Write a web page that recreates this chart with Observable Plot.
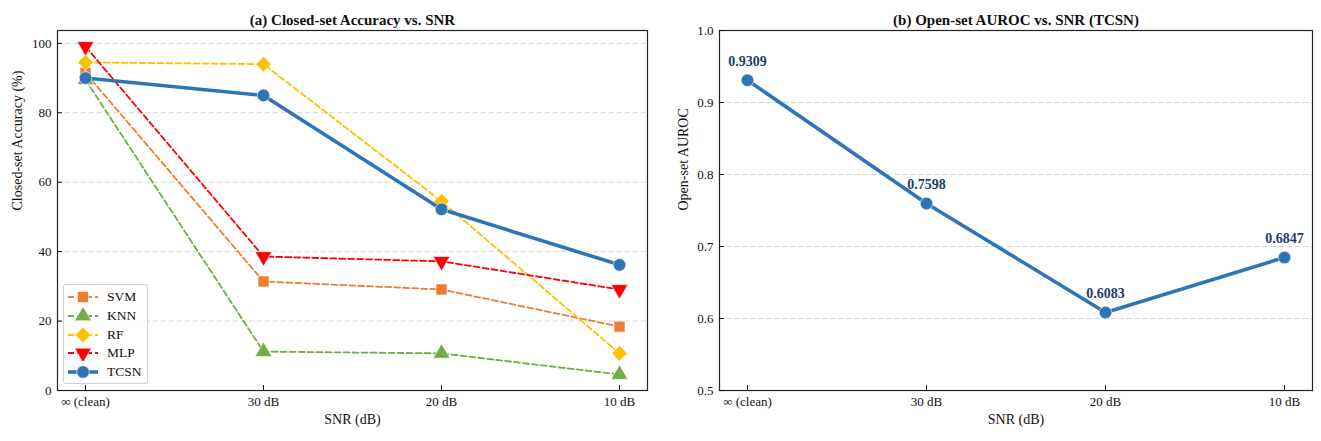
<!DOCTYPE html>
<html>
<head>
<meta charset="utf-8">
<script src="https://cdn.jsdelivr.net/npm/d3@7"></script>
<script src="https://cdn.jsdelivr.net/npm/@observablehq/plot@0.6"></script>
<style>
  html, body { margin: 0; padding: 0; background: #fff; }
  #wrap { position: relative; width: 1321px; height: 441px; display: flex; font-family: "Liberation Serif", "DejaVu Serif", serif; }
  #legend { position: absolute; left: 63px; top: 284px; width: 85px; height: 100px; box-sizing: border-box;
            border: 1px solid #d0d0d0; border-radius: 3px; background: rgba(255,255,255,0.85); padding-top: 3px; }
  .row { display: flex; align-items: center; height: 18.7px; font-size: 13.5px; color: #111; }
  .row svg { margin-left: 3px; margin-right: 8px; }
</style>
</head>
<body>
<div id="wrap">
  <div id="left"></div>
  <div id="right"></div>
  <div id="legend"></div>
</div>
<script>
// ---- data ----
const snr = ["∞ (clean)", "30 dB", "20 dB", "10 dB"];
const svm  = [91.5, 31.4, 29.1, 18.4];
const knn  = [89.5, 11.2, 10.7, 4.6];
const rf   = [94.5, 94.0, 54.5, 10.7];
const mlp  = [99.1, 38.6, 37.2, 29.1];
const tcsn = [90.0, 85.0, 52.2, 36.2];
const auroc = [0.9309, 0.7598, 0.6083, 0.6847];
const accTicks = [0, 20, 40, 60, 80, 100];
const aurocTicks = [0.5, 0.6, 0.7, 0.8, 0.9, 1.0];

// inverted triangle symbol
const triangleDown = {
  draw(ctx, size) {
    const s = Math.sqrt(4 * size / Math.sqrt(3));
    const h = s * Math.sqrt(3) / 2;
    ctx.moveTo(0, 2 * h / 3);
    ctx.lineTo(-s / 2, -h / 3);
    ctx.lineTo(s / 2, -h / 3);
    ctx.closePath();
  }
};

const series = [
  {name: "SVM",  values: svm,  color: "#ED7D31", symbol: "square",   r: 6.2, dash: "6,3", width: 1.8},
  {name: "KNN",  values: knn,  color: "#70AD47", symbol: "triangle", r: 6.2, dash: "6,3", width: 1.8},
  {name: "RF",   values: rf,   color: "#FFC000", symbol: "diamond2", r: 7.0, dash: "6,3", width: 1.8},
  {name: "MLP",  values: mlp,  color: "#FF0000", symbol: triangleDown, r: 6.2, dash: "6,3", width: 1.8},
  {name: "TCSN", values: tcsn, color: "#2E75B6", symbol: "circle",   r: 6.3, dash: null,  width: 3.6}
];

const font = {fontFamily: "Liberation Serif, DejaVu Serif, serif", fontSize: "13px", color: "#111", background: "transparent"};

// ---- left chart ----
const leftMarks = [
  Plot.gridY(accTicks.slice(1), {stroke: "#d4d4d4", strokeOpacity: 1, strokeDasharray: "5,3", strokeWidth: 1}),
];
for (const s of series) {
  const rows = snr.map((k, i) => ({snr: k, v: s.values[i]}));
  leftMarks.push(Plot.line(rows, {x: "snr", y: "v", stroke: s.color, strokeWidth: s.width,
    strokeDasharray: s.dash || undefined, strokeLinejoin: "round"}));
  leftMarks.push(Plot.dot(rows, {x: "snr", y: "v", fill: s.color, symbol: () => s.symbol, r: s.r,
    stroke: "white", strokeWidth: 0.6}));
}
leftMarks.push(
  Plot.frame({stroke: "#222", strokeWidth: 1.2}),
  Plot.axisY(accTicks, {tickSize: -5, tickPadding: 11, fontSize: 13, label: null}),
  Plot.axisX(snr, {tickSize: -5, tickPadding: 11, fontSize: 13, label: null}),
  Plot.text(["Closed-set Accuracy (%)"], {frameAnchor: "left", dx: -40, rotate: -90, fontSize: 14, text: d => d}),
  Plot.text(["SNR (dB)"], {frameAnchor: "bottom", dy: 33, fontSize: 14, text: d => d}),
  Plot.text(["(a) Closed-set Accuracy vs. SNR"], {frameAnchor: "top", dy: -16, fontSize: 15, fontWeight: "bold", text: d => d})
);

const left = Plot.plot({
  width: 660, height: 441,
  marginLeft: 57, marginRight: 13, marginTop: 30, marginBottom: 51,
  style: font,
  x: {type: "point", domain: snr, padding: 0.15, axis: null},
  y: {domain: [0, 103.7], axis: null},
  marks: leftMarks
});
document.getElementById("left").append(left);

// ---- right chart ----
const rrows = snr.map((k, i) => ({snr: k, v: auroc[i]}));
const right = Plot.plot({
  width: 661, height: 441,
  marginLeft: 59, marginRight: 9, marginTop: 30, marginBottom: 51,
  style: font,
  x: {type: "point", domain: snr, padding: 0.15, axis: null},
  y: {domain: [0.5, 1.0], axis: null},
  marks: [
    Plot.gridY(aurocTicks.slice(1, -1), {stroke: "#d4d4d4", strokeOpacity: 1, strokeDasharray: "5,3", strokeWidth: 1}),
    Plot.line(rrows, {x: "snr", y: "v", stroke: "#2E75B6", strokeWidth: 3.6}),
    Plot.dot(rrows, {x: "snr", y: "v", fill: "#2E75B6", r: 6.3, stroke: "white", strokeWidth: 0.6}),
    Plot.text(rrows, {x: "snr", y: "v", text: d => d.v.toFixed(4), dy: -19, fill: "#1F3A6B", fontWeight: "bold", fontSize: 14}),
    Plot.frame({stroke: "#222", strokeWidth: 1.2}),
    Plot.axisY(aurocTicks, {tickSize: -5, tickPadding: 11, fontSize: 13, tickFormat: d3.format(".1f"), label: null}),
    Plot.axisX(snr, {tickSize: -5, tickPadding: 11, fontSize: 13, label: null}),
    Plot.text(["Open-set AUROC"], {frameAnchor: "left", dx: -36, rotate: -90, fontSize: 14, text: d => d}),
    Plot.text(["SNR (dB)"], {frameAnchor: "bottom", dy: 33, fontSize: 14, text: d => d}),
    Plot.text(["(b) Open-set AUROC vs. SNR (TCSN)"], {frameAnchor: "top", dy: -16, fontSize: 15, fontWeight: "bold", text: d => d})
  ]
});
document.getElementById("right").append(right);

// ---- legend ----
const symMap = {square: d3.symbolSquare, triangle: d3.symbolTriangle, diamond2: d3.symbolDiamond2, circle: d3.symbolCircle};
const legend = d3.select("#legend");
for (const s of series) {
  const row = legend.append("div").attr("class", "row");
  const svg = row.append("svg").attr("width", 32).attr("height", 16);
  svg.append("line").attr("x1", 1).attr("x2", 31).attr("y1", 8).attr("y2", 8)
    .attr("stroke", s.color).attr("stroke-width", s.width)
    .attr("stroke-dasharray", s.dash ? "6,3" : null);
  const symType = typeof s.symbol === "string" ? symMap[s.symbol] : s.symbol;
  svg.append("path").attr("transform", "translate(16,8)")
    .attr("d", d3.symbol(symType, Math.PI * s.r * s.r)())
    .attr("fill", s.color).attr("stroke", "white").attr("stroke-width", 0.6);
  row.append("span").text(s.name);
}
</script>
</body>
</html>
